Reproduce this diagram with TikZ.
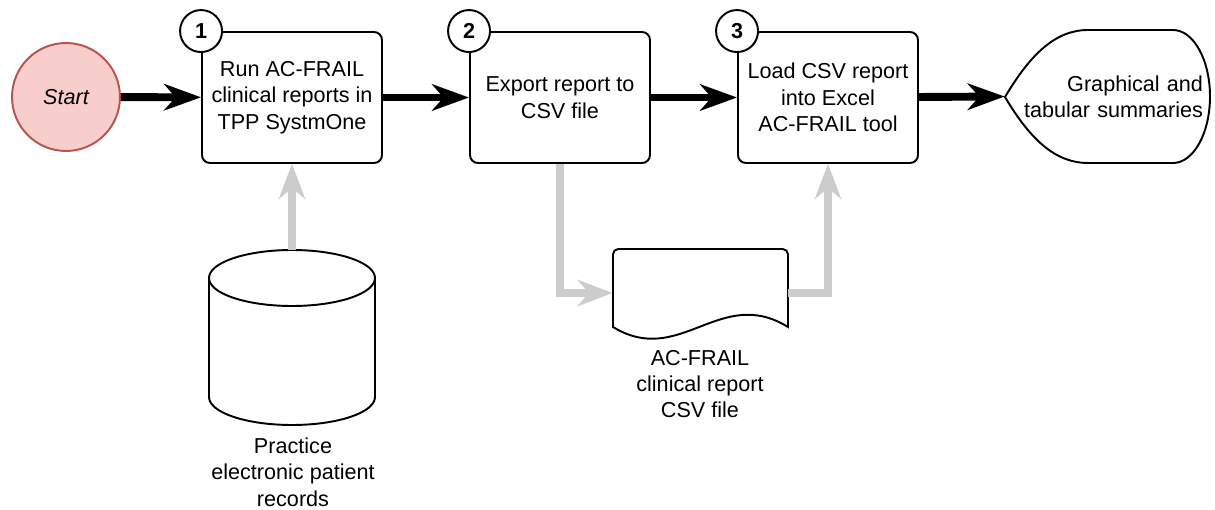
\documentclass[tikz,border=0pt]{standalone}
\usepackage{fontspec}
\setmainfont{Liberation Sans}
\usetikzlibrary{arrows.meta}
\definecolor{startfill}{HTML}{F8CECC}
\definecolor{startline}{HTML}{B85450}
\definecolor{lightgrey}{HTML}{CCCCCC}

\begin{document}
\begin{tikzpicture}[x=0.02cm, y=0.02cm]
                \tikzstyle{every node}+=[inner sep=0pt, font=\fontsize{12.3}{15}\selectfont]
                \tikzstyle{stepbox}=[draw, rounded corners=4.5pt, line width=1.1pt, fill=white, minimum width=3.6cm, minimum height=2.62cm, align=center]
                \tikzstyle{stepnum}=[draw, circle, line width=1.1pt, fill=white, minimum size=0.84cm, font=\fontsize{12.3}{15}\selectfont\bfseries]
                \tikzstyle{flow}=[line width=4.5pt, -{Stealth[length=21pt, width=15pt, inset=6.5pt]}]
                \tikzstyle{data}=[line width=4pt, lightgrey, -{Stealth[length=20pt, width=15pt, inset=6.5pt]}]
                \tikzstyle{shapeline}=[line width=1.1pt, fill=white]
                \useasboundingbox (0,0) rectangle (1215,-510);
                % start and the three steps
                \node [draw=startline, fill=startfill, circle, line width=1.1pt, minimum size=2.16cm, font=\fontsize{12.3}{15}\selectfont\itshape] (start) at (66,-97) {Start};
                \node [stepbox] (run) at (292,-97.5) {Run AC-FRAIL\\clinical reports in\\TPP SystmOne};
                \node [stepbox] (export) at (560,-97.5) {Export report to\\CSV file};
                \node [stepbox] (load) at (828,-97.5) {Load CSV report\\into Excel\\AC-FRAIL tool};
                \node [stepnum] (num1) at (run.north west) {1};
                \node [stepnum] (num2) at (export.north west) {2};
                \node [stepnum] (num3) at (load.north west) {3};
                % display
                \draw [shapeline] (1005,-97) .. controls (1030,-55) and (1055,-30) .. (1088,-30) -- (1173,-30) arc [start angle=90, end angle=-90, x radius=37, y radius=66.5] -- (1088,-163) .. controls (1055,-163) and (1030,-139) .. (1005,-97) -- cycle;
                \node [minimum width=4.1cm, minimum height=2.66cm, text width=3.82cm, align=right] (summary) at (1107.5,-96.5) {Graphical and\\tabular summaries};
                % database
                \node [minimum width=3.32cm, minimum height=3.5cm] (records) at (292,-337.5) {};
                \draw [shapeline] (209,-278) -- (209,-397) arc [start angle=180, end angle=360, x radius=83, y radius=28] -- (375,-278);
                \draw [shapeline] (292,-278) ellipse [x radius=83, y radius=28];
                \node [align=center] (recordstext) at (293,-472) {Practice\\electronic patient\\records};
                % document
                \node [minimum width=3.5cm, minimum height=1.76cm] (csv) at (700.5,-293) {};
                \draw [shapeline] (613,-327) [rounded corners=3pt] -- (613,-249) -- (788,-249) [sharp corners] -- (788,-327) .. controls (720,-285) and (680,-368) .. (613,-327) -- cycle;
                \node [align=center] (csvtext) at (700,-384) {AC-FRAIL\\clinical report\\CSV file};
                % connectors
                \draw [flow] (start) -- (run);
                \draw [flow] (run) -- (export);
                \draw [flow] (export) -- (load);
                \draw [flow] (load) -- (summary.west);
                \draw [data] (records.north) -- (run.south);
                \draw [data] (export.south) |- (csv.west);
                \draw [data] (csv.east) -| (load.south);
\end{tikzpicture}
\end{document}
